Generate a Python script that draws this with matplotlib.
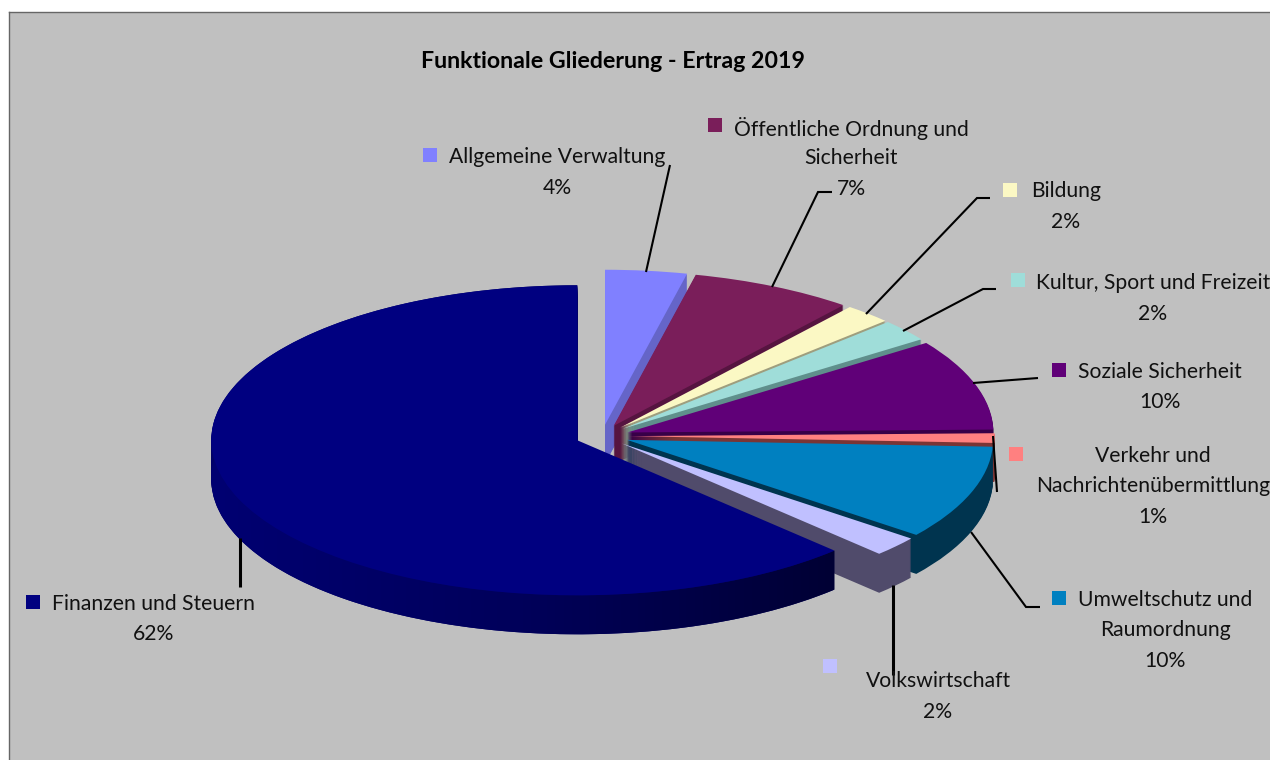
import numpy as np
import matplotlib
matplotlib.use('Agg')
import matplotlib.pyplot as plt
from matplotlib.colors import LinearSegmentedColormap
from matplotlib.patches import Polygon, Rectangle

plt.rcParams['font.family'] = 'Lato'

title = 'Funktionale Gliederung - Ertrag 2019'
categories = ['Allgemeine Verwaltung', 'Öffentliche Ordnung und\nSicherheit', 'Bildung',
              'Kultur, Sport und Freizeit', 'Soziale Sicherheit',
              'Verkehr und\nNachrichtenübermittlung', 'Umweltschutz und\nRaumordnung',
              'Volkswirtschaft', 'Finanzen und Steuern']
values = [3.6, 7.2, 2.1, 2.3, 9.5, 1.0, 9.8, 2.1, 62.4]
percent_labels = ['4%', '7%', '2%', '2%', '10%', '1%', '10%', '2%', '62%']

top_colors = ['#8080FF', '#7A1E5A', '#FBF8C4', '#9FDDD9', '#600078',
              '#FF8080', '#0080C0', '#C0C0FF', '#000080']
side_colors = ['#6565C8', '#561440', '#9E9E7E', '#5F8F8C', '#380048',
               '#7A3535', '#00344F', '#504B6B', '#000068']

W, H = 1270, 760
fig = plt.figure(figsize=(W / 100, H / 100), dpi=100, facecolor='white')

# grey plot area, runs off the right and bottom of the picture
bg = fig.add_axes([9 / W, -0.01, 1, (H - 12) / H + 0.01])
bg.set_facecolor('#C0C0C0')
bg.set_xticks([])
bg.set_yticks([])
for s in bg.spines.values():
    s.set_color('#666666')
    s.set_linewidth(1.0)

# pie axes: 1 data unit = 366 px across, 155 px down, so the circle turns into an ellipse
rx, ry = 366, 155
cx, cy = 602, 436
ax = fig.add_axes([0, 0, 1, 1], facecolor='none')
depth = 39
explode = [0.073] * len(values)

for k in range(depth, 0, -1):
    res = ax.pie(values, explode=explode, colors=side_colors, startangle=90, counterclock=False,
                 center=(0, -k / ry), radius=1, wedgeprops={'linewidth': 0})
    for w in res[0]:
        w.set_zorder(depth - k + 1)

res = ax.pie(values, explode=explode, colors=top_colors, startangle=90, counterclock=False,
             center=(0, 0), radius=1, wedgeprops={'linewidth': 0})
for w in res[0]:
    w.set_zorder(depth + 3)

# shading along the outer wall of the big slice
big = res[0][-1]
t = np.radians(np.linspace(big.theta1, big.theta2, 200))
upper = np.column_stack([big.center[0] + np.cos(t), big.center[1] + np.sin(t)])
lower = upper - [0, depth / ry]
band = Polygon(np.vstack([upper, lower[::-1]]), closed=True, transform=ax.transData)
shade = LinearSegmentedColormap.from_list('shade', ['#000072', '#00005A', '#000034'])
im = ax.imshow(np.linspace(0, 1, 256).reshape(1, -1), cmap=shade, aspect='auto',
               extent=(upper[:, 0].min(), upper[:, 0].max(), -2, 2), zorder=depth + 2)
im.set_clip_path(band)

ax.set_aspect('auto')
ax.set_xlim(-cx / rx, (W - cx) / rx)
ax.set_ylim((cy - H) / ry, cy / ry)
ax.set_axis_off()

# overlay in pixel coordinates for labels, swatches and leader lines
ov = fig.add_axes([0, 0, 1, 1], facecolor='none')
ov.set_xlim(0, W)
ov.set_ylim(H, 0)
ov.set_axis_off()

ov.text(613, 61, title, ha='center', va='center', fontsize=16.7, fontweight='bold', color='black')

label_x = [557, 851, 1066, 1153, 1160, 1153, 1165, 938, 154]
label_y = [157, 128, 191, 283, 372, 456, 600, 681, 604]
swatch_x = [423, 708, 1003, 1011, 1052, 1009, 1052, 823, 26]
swatch_y = [148, 118, 183, 273, 363, 447, 591, 659, 595]

for i, name in enumerate(categories):
    ov.add_patch(Rectangle((swatch_x[i], swatch_y[i]), 14, 14, facecolor=top_colors[i], edgecolor='none'))
    lines = name.split('\n') + [percent_labels[i]]
    for j, line in enumerate(lines):
        ov.text(label_x[i], label_y[i] + j * 30.5, line, ha='center', va='center',
                fontsize=15.2, color='#111111', clip_on=True)

leaders = [
    ([670, 646], [165, 272], 1.5),
    ([832, 818, 772], [192, 192, 287], 1.5),
    ([990, 977, 866], [198, 198, 314], 1.5),
    ([996, 983, 903], [289, 289, 331], 1.5),
    ([1038, 1025, 973], [378, 379, 383], 1.5),
    ([993, 997], [436, 492], 1.5),
    ([1040, 1026, 971], [607, 607, 532], 1.5),
    ([893, 893], [585, 675], 2.2),
    ([240, 240], [538, 587], 2.2),
]
for xs, ys, lw in leaders:
    ov.plot(xs, ys, color='black', linewidth=lw, solid_capstyle='butt', solid_joinstyle='miter')

plt.savefig('out.png', dpi=100)
plt.close()
